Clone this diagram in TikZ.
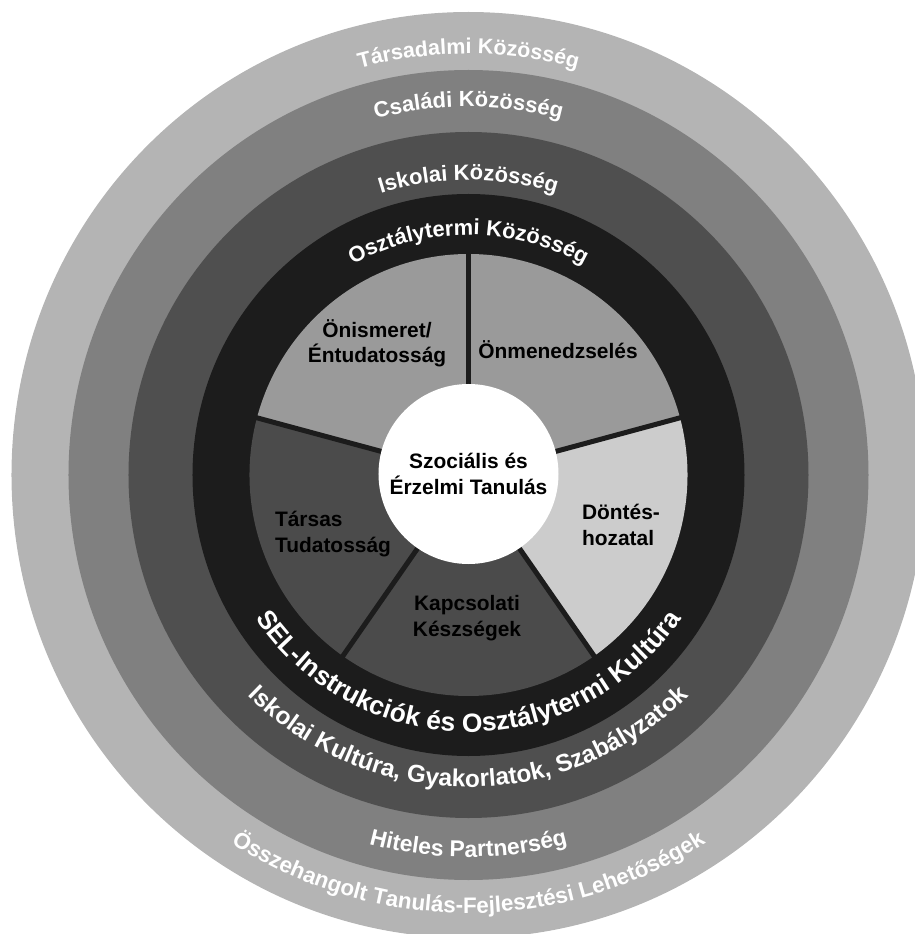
\documentclass[tikz,border=0pt]{standalone}
\usepackage{fontspec}
\setmainfont{Liberation Sans}
\usetikzlibrary{decorations.text}
\definecolor{ringA}{HTML}{B4B4B4}
\definecolor{ringB}{HTML}{808080}
\definecolor{ringC}{HTML}{4F4F4F}
\definecolor{ringD}{HTML}{1C1C1C}
\definecolor{sliceL}{HTML}{9A9A9A}
\definecolor{sliceP}{HTML}{CCCCCC}
\definecolor{sliceD}{HTML}{4B4B4B}
\newcommand\myarctop[3]{\path[decorate,decoration={text along path,text align=center,text color=white,text={|\bfseries\fontsize{#2}{#2}\selectfont|#3}}] (170:#1) arc[start angle=170,end angle=10,radius=#1];}
\newcommand\myarcbot[3]{\path[decorate,decoration={text along path,text align=center,text color=white,text={|\bfseries\fontsize{#2}{#2}\selectfont|#3}}] (190:#1) arc[start angle=190,end angle=350,radius=#1];}
\begin{document}
\begin{tikzpicture}[x=1bp,y=1bp,
  lbl/.style={font=\bfseries\fontsize{21}{25.5}\selectfont, text=black, inner sep=0pt},
  divider/.style={line width=5bp, draw=ringD}]
\useasboundingbox (-468.5,-459) rectangle (446.5,475);
\clip (-468.5,-459) rectangle (446.5,475);
\coordinate (o) at (0,0);
% rings
\fill[ringA] (o) ellipse[x radius=457, y radius=463];
\fill[ringB] (o) ellipse[x radius=400, y radius=405];
\fill[ringC] (o) ellipse[x radius=340, y radius=343];
\fill[ringD] (o) ellipse[x radius=276, y radius=281];
% pie slices
\fill[sliceL] (o) -- (90:219 and 221) arc[start angle=90,end angle=165,x radius=219,y radius=221] -- cycle;
\fill[sliceL] (o) -- (15:219 and 221) arc[start angle=15,end angle=90,x radius=219,y radius=221] -- cycle;
\fill[sliceP] (o) -- (-55:219 and 221) arc[start angle=-55,end angle=15,x radius=219,y radius=221] -- cycle;
\fill[sliceD] (o) -- (-125:219 and 221) arc[start angle=-125,end angle=-55,x radius=219,y radius=221] -- cycle;
\fill[sliceD] (o) -- (165:219 and 221) arc[start angle=165,end angle=235,x radius=219,y radius=221] -- cycle;
% dividers
\foreach \a in {90,15,-55,-125,165} \draw[divider] (o) -- (\a:223 and 225);
% centre
\node[circle, fill=white, minimum size=180bp, inner sep=0pt, align=center,
      font=\bfseries\fontsize{21}{26}\selectfont] (core) at (0,1) {Szociális és\\Érzelmi Tanulás};
% slice labels
\node[lbl, align=center] (onism) at (-91.5,132) {Önismeret/\\Éntudatosság};
\node[lbl, align=center] (onmen) at (89.5,125) {Önmenedzselés};
\node[lbl, align=left] (dontes) at (152.5,-50) {Döntés-\\hozatal};
\node[lbl, align=left] (tarsas) at (-135.5,-59) {Társas\\Tudatosság};
\node[lbl, align=center] (kapcs) at (-1.5,-143) {Kapcsolati\\Készségek};
% ring labels (top)
\myarctop{421}{21.5}{Társadalmi Közösség}
\myarctop{368}{22}{Családi Közösség}
\myarctop{295}{22}{Iskolai Közösség}
\myarctop{240}{22}{Osztálytermi Közösség}
% ring labels (bottom)
\myarcbot{257}{26.5}{SEL-Instrukciók és Osztálytermi Kultúra}
\myarcbot{312}{24.5}{Iskolai Kultúra, Gyakorlatok, Szabályzatok}
\myarcbot{382}{23}{Hiteles Partnerség}
\myarcbot{438}{22.5}{Összehangolt Tanulás-Fejlesztési Lehetőségek}
\end{tikzpicture}
\end{document}
